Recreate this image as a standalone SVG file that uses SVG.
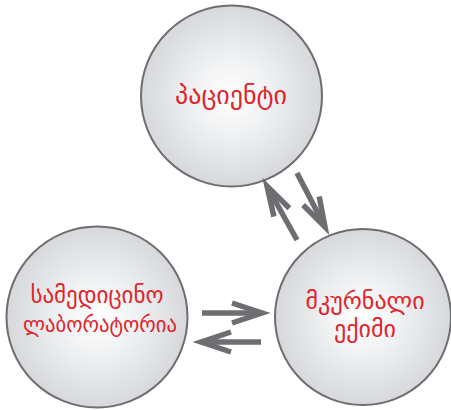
<svg xmlns="http://www.w3.org/2000/svg" width="451" height="410" viewBox="0 0 451 410">
<defs>
<radialGradient id="g" cx="0.5" cy="0.5" r="0.5">
<stop offset="0" stop-color="#ffffff"/>
<stop offset="0.35" stop-color="#f3f4f5"/>
<stop offset="1" stop-color="#d6d8db"/>
</radialGradient>
<style>
.c{fill:url(#g);stroke:#6d6e71;stroke-width:2}
.t{font-family:"DejaVu Sans",sans-serif;font-size:24px;fill:#e0242c;text-anchor:middle}
.a{fill:none;stroke:#6d6e71;stroke-width:5.5;stroke-linejoin:miter;stroke-miterlimit:10}
</style>
</defs>
<rect width="451" height="410" fill="#ffffff"/>
<g id="patient">
<circle class="c" cx="231.5" cy="96" r="90.5"/>
<text class="t" x="231" y="104" style="font-size:26px">პაციენტი</text>
</g>
<g id="laboratory">
<circle class="c" cx="97" cy="317" r="90.5"/>
<text class="t" x="97" y="303" style="font-size:23px">სამედიცინო</text>
<text class="t" x="100" y="332" style="font-size:22px" textLength="154" lengthAdjust="spacingAndGlyphs">ლაბორატორია</text>
</g>
<g id="doctor">
<circle class="c" cx="363" cy="317" r="88"/>
<text class="t" x="365" y="309">მკურნალი</text>
<text class="t" x="365" y="337">ექიმი</text>
</g>
<g id="connectors">
<line class="a" x1="202" y1="313" x2="260" y2="313"/>
<polyline class="a" points="232,303 262,313 232,323"/>
<line class="a" x1="261" y1="342" x2="203" y2="342"/>
<polyline class="a" points="231,332 201,342 231,352"/>
<line class="a" x1="297" y1="240" x2="268" y2="188"/>
<polyline class="a" points="289.4,208.2 267,186 273.9,216.6"/>
<line class="a" x1="297" y1="173" x2="324" y2="225"/>
<polyline class="a" points="303.1,205 325,227 319.2,196.4"/>
</g>
</svg>
